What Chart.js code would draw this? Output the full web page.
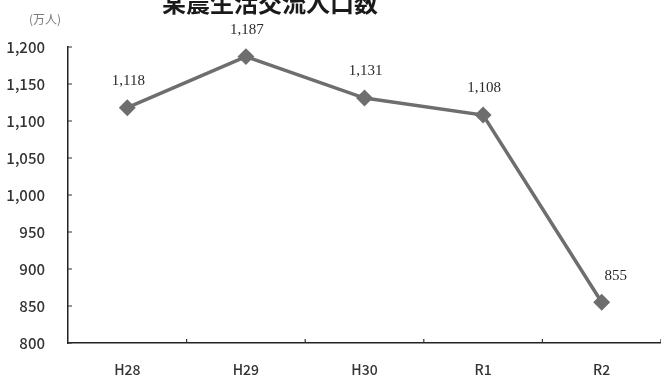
<!DOCTYPE html>
<html>
<head>
<meta charset="utf-8">
<script src="https://cdn.jsdelivr.net/npm/chart.js@4.4.1/dist/chart.umd.min.js"></script>
<style>
  html, body { margin: 0; padding: 0; background: #ffffff; }
  #wrap { width: 661px; height: 378px; position: relative; }
</style>
</head>
<body>
<div id="wrap"><canvas id="c" width="661" height="378"></canvas></div>
<script>
// 年度ごとの交流人口（万人）
const categories = ['H28', 'H29', 'H30', 'R1', 'R2'];
const visitors = [1118, 1187, 1131, 1108, 855];
const yTicks = [800, 850, 900, 950, 1000, 1050, 1100, 1150, 1200];
const chartTitle = '某農生活交流人口数';
const unitLabel = '(万人)';

const FONT = '"Noto Sans CJK JP", "Noto Sans", sans-serif';
const SERIF = '"Liberation Serif", "DejaVu Serif", serif';
const fmt = v => v.toLocaleString('en-US');

// 見出しと単位
const headerPlugin = {
  id: 'header',
  afterDraw(chart) {
    const ctx = chart.ctx;
    ctx.save();
    ctx.fillStyle = '#1a1a1a';
    ctx.font = 'bold 24px ' + FONT;
    ctx.textAlign = 'center';
    ctx.textBaseline = 'alphabetic';
    ctx.fillText(chartTitle, 270, 12);
    ctx.fillStyle = '#7a7a7a';
    ctx.font = '12px ' + FONT;
    ctx.textBaseline = 'middle';
    ctx.fillText(unitLabel, 45, 19);
    ctx.restore();
  }
};

// 軸の内向き目盛り
const innerTicksPlugin = {
  id: 'innerTicks',
  afterDraw(chart) {
    const ctx = chart.ctx;
    const xs = chart.scales.x, ys = chart.scales.y;
    const area = chart.chartArea;
    ctx.save();
    ctx.strokeStyle = '#333';
    ctx.lineWidth = 1.2;
    ctx.beginPath();
    ys.ticks.forEach((t, i) => {
      const y = ys.getPixelForTick(i);
      ctx.moveTo(area.left, y);
      ctx.lineTo(area.left + 4, y);
    });
    const half = (xs.getPixelForValue(1) - xs.getPixelForValue(0)) / 2;
    for (let i = 0; i < categories.length; i++) {
      const x = xs.getPixelForValue(i) + half;
      ctx.moveTo(x, area.bottom);
      ctx.lineTo(x, area.bottom - 4);
    }
    ctx.stroke();
    ctx.restore();
  }
};

// 各点の値ラベル
const valueLabelPlugin = {
  id: 'valueLabels',
  afterDatasetsDraw(chart) {
    const ctx = chart.ctx;
    const meta = chart.getDatasetMeta(0);
    ctx.save();
    ctx.fillStyle = '#2a2a2a';
    ctx.font = '15px ' + SERIF;
    ctx.textAlign = 'center';
    ctx.textBaseline = 'middle';
    meta.data.forEach((pt, i) => {
      const last = i === meta.data.length - 1;
      const dx = last ? 14 : 1;
      const dy = last ? -26 : -27;
      ctx.fillText(fmt(visitors[i]), pt.x + dx, pt.y + dy);
    });
    ctx.restore();
  }
};

new Chart(document.getElementById('c'), {
  type: 'line',
  data: {
    labels: categories,
    datasets: [{
      data: visitors,
      borderColor: '#6e6e6e',
      backgroundColor: '#6e6e6e',
      borderWidth: 3.5,
      pointStyle: 'rectRot',
      pointRadius: 6,
      pointHoverRadius: 6,
      tension: 0
    }]
  },
  options: {
    responsive: false,
    animation: false,
    devicePixelRatio: 1,
    layout: { autoPadding: false, padding: { top: 47, left: 0, right: 0, bottom: 0 } },
    plugins: {
      legend: { display: false },
      title: { display: false },
      tooltip: { enabled: false }
    },
    scales: {
      x: {
        type: 'category',
        offset: true,
        grid: { display: false },
        border: { display: true, color: '#222', width: 1.5 },
        ticks: {
          color: '#333',
          font: { family: FONT, size: 14, weight: 500 },
          padding: 10
        },
        afterFit(scale) {
          scale.height = 35;
          scale.paddingLeft = 0;
          scale.paddingRight = 0;
        }
      },
      y: {
        min: 800,
        max: 1200,
        afterBuildTicks(scale) { scale.ticks = yTicks.map(v => ({ value: v })); },
        grid: { display: false },
        border: { display: true, color: '#222', width: 1.5 },
        ticks: {
          color: '#333',
          font: { family: FONT, size: 15, weight: 500 },
          padding: 15,
          callback: v => fmt(v)
        },
        afterFit(scale) { scale.width = 68; }
      }
    }
  },
  plugins: [headerPlugin, innerTicksPlugin, valueLabelPlugin]
});
</script>
</body>
</html>
